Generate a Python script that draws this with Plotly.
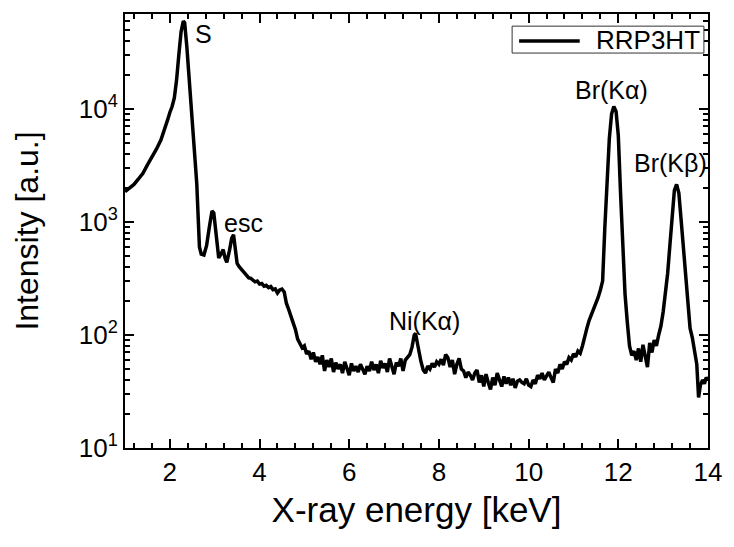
import math
import plotly.graph_objects as go

# XRF spectrum of RRP3HT: energy (keV) vs intensity (a.u.)
energy = [
    1.00, 1.10, 1.20, 1.30, 1.40, 1.50, 1.60, 1.70, 1.80, 1.90, 1.95, 2.00, 2.05, 2.10, 2.15,
    2.20, 2.25, 2.30, 2.33, 2.38, 2.45, 2.52, 2.60, 2.66, 2.70, 2.76, 2.82, 2.88, 2.94, 2.98,
    3.03, 3.09, 3.14, 3.19, 3.23, 3.27, 3.33, 3.38, 3.42, 3.46, 3.50, 3.55, 3.60, 3.64, 3.70,
    3.76, 3.80, 3.85, 3.90, 3.95, 4.00, 4.05, 4.10, 4.15, 4.20, 4.25, 4.30, 4.35, 4.40, 4.45,
    4.50, 4.55, 4.60, 4.65, 4.70, 4.75, 4.80, 4.85, 4.90, 4.95, 5.00, 5.05, 5.10, 5.15, 5.20,
    5.25, 5.30, 5.35, 5.40, 5.45, 5.50, 5.55, 5.60, 5.65, 5.70, 5.75, 5.80, 5.85, 5.90, 5.95,
    6.00, 6.05, 6.10, 6.15, 6.20, 6.25, 6.30, 6.35, 6.40, 6.45, 6.50, 6.55, 6.60, 6.65, 6.70,
    6.75, 6.80, 6.85, 6.90, 6.95, 7.00, 7.05, 7.10, 7.15, 7.20, 7.25, 7.30, 7.35, 7.40, 7.45,
    7.48, 7.52, 7.56, 7.60, 7.65, 7.70, 7.75, 7.80, 7.85, 7.90, 7.95, 8.00, 8.05, 8.10, 8.15,
    8.20, 8.25, 8.30, 8.35, 8.40, 8.45, 8.50, 8.55, 8.60, 8.65, 8.70, 8.75, 8.80, 8.85, 8.90,
    8.95, 9.00, 9.05, 9.10, 9.15, 9.20, 9.25, 9.30, 9.35, 9.40, 9.45, 9.50, 9.55, 9.60, 9.65,
    9.70, 9.75, 9.80, 9.85, 9.90, 9.95, 10.00, 10.05, 10.10, 10.15, 10.20, 10.25, 10.30, 10.35,
    10.40, 10.45, 10.50, 10.55, 10.60, 10.65, 10.70, 10.75, 10.80, 10.85, 10.90, 10.95, 11.00,
    11.05, 11.10, 11.15, 11.20, 11.25, 11.30, 11.35, 11.40, 11.45, 11.50, 11.55, 11.60, 11.65,
    11.70, 11.75, 11.80, 11.85, 11.90, 11.95, 12.00, 12.05, 12.10, 12.15, 12.20, 12.25, 12.30,
    12.35, 12.40, 12.45, 12.50, 12.55, 12.60, 12.65, 12.70, 12.75, 12.80, 12.85, 12.90, 12.95,
    13.00, 13.05, 13.10, 13.15, 13.20, 13.25, 13.30, 13.35, 13.40, 13.45, 13.50, 13.55, 13.60,
    13.65, 13.70, 13.75, 13.79, 13.83, 13.88, 13.92, 13.96, 14.00,
]
intensity = [
    1850, 2000, 2150, 2400, 2700, 3200, 3700, 4400, 5300, 6800, 8000, 9300, 10500, 12500, 18000,
    30000, 48000, 60000, 58000, 35000, 15000, 6500, 2200, 600, 520, 510, 620, 900, 1250, 1200,
    750, 480, 520, 570, 480, 440, 560, 720, 770, 600, 430, 400, 380, 360, 345,
    320, 318, 305, 295, 300, 282, 285, 270, 275, 262, 268, 252, 256, 235, 250,
    255, 240, 190, 168, 150, 128, 112, 92, 84, 77, 80, 68, 72, 61, 70,
    58, 64, 55, 66, 48, 60, 52, 62, 47, 57, 50, 55, 46, 58, 49,
    44, 56, 48, 53, 47, 55, 50, 45, 53, 48, 58, 49, 55, 46, 59,
    51, 56, 47, 62, 52, 45, 57, 53, 62, 48, 60, 63, 67, 78, 100,
    103, 88, 70, 58, 49, 46, 53, 50, 56, 52, 58, 55, 61, 54, 67,
    63, 52, 60, 45, 55, 62, 50, 48, 42, 47, 44, 40, 46, 49, 38,
    44, 35, 45, 38, 33, 42, 36, 46, 39, 35, 43, 37, 42, 36, 41,
    34, 39, 40, 38, 37, 41, 36, 35, 40, 37, 44, 41, 46, 40,
    43, 47, 42, 38, 50, 46, 55, 50, 58, 55, 63, 60, 68,
    64, 72, 69, 80, 98, 115, 135, 150, 170, 190, 215, 250, 300,
    900, 2500, 5500, 9000, 10500, 9500, 5800, 1800, 550, 230, 130, 80, 66,
    72, 60, 76, 58, 82, 65, 52, 85, 70, 90, 80, 100, 120,
    160, 230, 350, 620, 1200, 1900, 2150, 1800, 1050, 600, 320, 180, 115,
    95, 70, 55, 28, 36, 40, 37, 42, 40,
]
series_name = "RRP3HT"

# Peak labels and their anchor positions (keV, intensity)
peak_labels = ["S", "esc", "Ni(Kα)", "Br(Kα)", "Br(Kβ)"]
label_x = [2.76, 3.64, 7.67, 11.84, 13.16]
label_y = [46000, 980, 134, 14800, 3300]

y_tick_vals = [10, 100, 1000, 10000]
y_tick_text = ["10<sup>1</sup>", "10<sup>2</sup>", "10<sup>3</sup>", "10<sup>4</sup>"]
y_minor_vals = [m * d for d in (10, 100, 1000, 10000) for m in range(2, 10)]

FONT = "Liberation Sans, Arial, Helvetica, sans-serif"

fig = go.Figure()
fig.add_trace(go.Scatter(
    x=energy, y=intensity, mode="lines", name=series_name,
    line=dict(color="black", width=3.5), showlegend=False,
))

# log axis: annotation y is given in log10 units
for txt, lx, ly in zip(peak_labels, label_x, label_y):
    fig.add_annotation(
        x=lx, y=math.log10(ly), xref="x", yref="y", text=txt, showarrow=False,
        font=dict(family=FONT, size=25, color="black"),
        xanchor="center", yanchor="middle",
    )

# compact boxed legend in the upper-right corner of the plot area
fig.add_shape(type="rect", xref="paper", yref="paper",
              x0=0.664, x1=0.993, y0=0.910, y1=0.972,
              line=dict(color="#333333", width=1), fillcolor="white", layer="above")
fig.add_shape(type="line", xref="paper", yref="paper",
              x0=0.676, x1=0.780, y0=0.938, y1=0.938,
              line=dict(color="black", width=3.5), layer="above")
fig.add_annotation(x=0.989, y=0.941, xref="paper", yref="paper", text=series_name,
                   showarrow=False, xanchor="right", yanchor="middle",
                   font=dict(family=FONT, size=26, color="black"))

fig.update_xaxes(
    range=[1, 14], dtick=2, tick0=0,
    showline=True, linecolor="black", linewidth=2, mirror="allticks",
    ticks="inside", ticklen=9, tickwidth=1.5, tickcolor="black",
    minor=dict(dtick=0.4, tick0=0, ticks="inside", ticklen=5, tickwidth=1.5, tickcolor="black"),
    showgrid=False, zeroline=False,
    tickfont=dict(family=FONT, size=26, color="black"),
    title=dict(text="X-ray energy [keV]", font=dict(family=FONT, size=35, color="black"), standoff=11),
)
fig.update_yaxes(
    type="log", range=[1, 4.84],
    tickmode="array", tickvals=y_tick_vals, ticktext=y_tick_text,
    showline=True, linecolor="black", linewidth=2, mirror="allticks",
    ticks="inside", ticklen=9, tickwidth=1.5, tickcolor="black",
    minor=dict(tickmode="array", tickvals=y_minor_vals, ticks="inside", ticklen=5,
               tickwidth=1.5, tickcolor="black"),
    showgrid=False, zeroline=False,
    tickfont=dict(family=FONT, size=26, color="black"),
    title=dict(text="Intensity [a.u.]", font=dict(family=FONT, size=32, color="black"), standoff=31),
)

fig.update_layout(
    width=734, height=547,
    margin=dict(l=125, r=19, t=12, b=99),
    paper_bgcolor="white", plot_bgcolor="white",
    showlegend=False,
)

fig.write_html("out.html")
